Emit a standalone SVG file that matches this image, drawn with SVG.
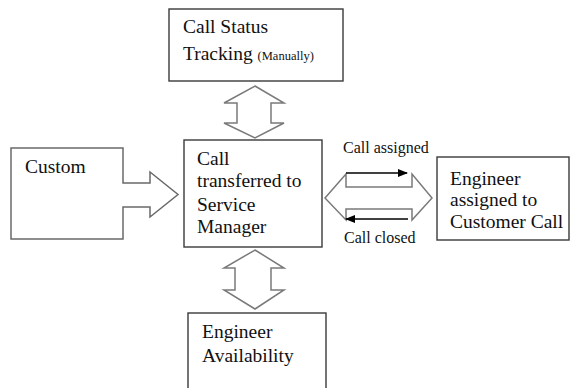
<svg xmlns="http://www.w3.org/2000/svg" width="570" height="388" viewBox="0 0 570 388">
<defs>
<style>
.box{fill:#fff;stroke:#3a3a3a;stroke-width:1.4}
.blk{fill:#fff;stroke:#7a7a7a;stroke-width:1.5;stroke-linejoin:miter}
.t{font-family:"Liberation Serif","DejaVu Serif","Times New Roman",serif;font-size:19.5px;fill:#111}
.s{font-family:"Liberation Serif","DejaVu Serif","Times New Roman",serif;font-size:16px;fill:#111}
.ln{stroke:#000;stroke-width:1.3;fill:none}
</style>
<marker id="ah" markerWidth="10" markerHeight="8" refX="9" refY="4" orient="auto" markerUnits="userSpaceOnUse">
<path d="M0,0 L10,4 L0,8 Z" fill="#000"/>
</marker>
</defs>
<rect width="570" height="388" fill="#fff"/>
<g id="connectors">
<path id="arrow-top" class="blk" d="M255,86 L284,103 H271 V123 H284 L255,138 L224,123 H237 V103 H224 Z"/>
<path id="arrow-bottom" class="blk" d="M255,250 L284,268 H271 V290 H284 L255,309 L224,290 H235 V268 H224 Z"/>
<path id="arrow-right" class="blk" d="M325,198 L346,174 V187 H412 V174 L432,198 L412,220 V209 H346 V220 Z"/>
<line class="ln" x1="346" y1="173" x2="407" y2="173" marker-end="url(#ah)"/>
<line class="ln" x1="408" y1="219" x2="346" y2="219" marker-end="url(#ah)"/>
<text class="s" x="343" y="153">Call assigned</text>
<text class="s" x="344" y="243">Call closed</text>
</g>
<g id="custom">
<path class="blk" style="stroke:#6a6a6a" d="M11,148 H123 V183 H150 V172 L178,194.5 L150,217 V207 H123 V239 H11 Z"/>
<text class="t" x="25" y="173">Custom</text>
</g>
<g id="tracking">
<rect class="box" x="169" y="9" width="174" height="72"/>
<text class="t" x="183" y="33">Call Status</text>
<text class="t" x="183" y="60">Tracking <tspan style="font-size:12.5px">(Manually)</tspan></text>
</g>
<g id="service-manager">
<rect class="box" x="184" y="140" width="138" height="107"/>
<text class="t" x="197" y="165">Call</text>
<text class="t" x="197" y="187">transferred to</text>
<text class="t" x="197" y="211">Service</text>
<text class="t" x="197" y="233">Manager</text>
</g>
<g id="engineer-assigned">
<rect class="box" x="437" y="157" width="132" height="83"/>
<text class="t" x="450" y="185">Engineer</text>
<text class="t" x="450" y="206">assigned to</text>
<text class="t" x="450" y="228">Customer Call</text>
</g>
<g id="engineer-availability">
<rect class="box" x="188" y="313" width="138" height="85"/>
<text class="t" x="202" y="338">Engineer</text>
<text class="t" x="202" y="362">Availability</text>
</g>
</svg>
